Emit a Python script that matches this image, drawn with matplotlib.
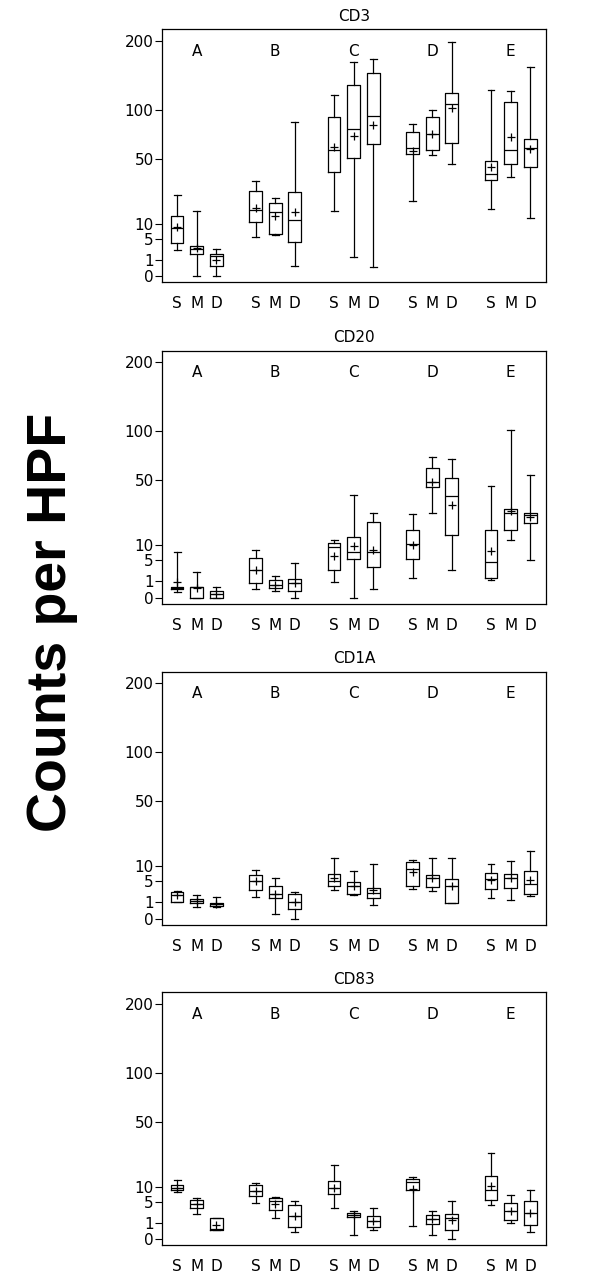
import numpy as np
import matplotlib.pyplot as plt

# groups / subsets / markers
groups = ['A', 'B', 'C', 'D', 'E']
subsets = ['S', 'M', 'D']
panels = ['CD3', 'CD20', 'CD1A', 'CD83']
yticks = [0, 1, 5, 10, 50, 100, 200]

# box stats, order A-S, A-M, A-D, B-S, ... E-D
cd3_low = [2.5, 0, 0, 5.5, 6.25, 0.41, 15.5, 1.4, 0.3, 20.4, 53, 45.7, 16.3, 35.8, 12.1]
cd3_q1 = [3.9, 1.85, 0.41, 10.6, 6.45, 4.3, 38.9, 50.4, 63, 53.6, 57.5, 63.7, 33.4, 45.7, 43]
cd3_med = [8.5, 2.76, 1.54, 15.8, 14.9, 11.4, 57.5, 78.1, 92.9, 59.3, 72.9, 106.9, 37.9, 57.5, 59]
cd3_q3 = [13.1, 3.3, 1.74, 26.2, 19.4, 25.6, 91.8, 131.8, 148.8, 75, 91, 120.6, 47.6, 109.4, 67.9]
cd3_high = [23.6, 15.2, 2.7, 32.7, 21.9, 85.4, 118, 166, 169.5, 83.2, 99.6, 197.7, 125.4, 123.7, 157.8]
cd3_mean = [8.6, 2.9, 0.96, 16.6, 13, 14.9, 59.9, 70.9, 82.8, 56.9, 73.3, 102, 43.3, 69.6, 58.1]

cd20_low = [0.1, 0, 0, 0.27, 0.16, 0, 0.85, 0, 0.27, 1.39, 25.6, 2.76, 1.17, 11.8, 5.1]
cd20_q1 = [0.25, 0, 0, 0.74, 0.31, 0.14, 2.8, 5.5, 3.46, 5.3, 44.4, 14.4, 1.35, 16.6, 19.9]
cd20_med = [0.36, 0.38, 0.06, 2.76, 0.58, 0.74, 9.1, 7.5, 7.5, 10.4, 47.9, 37.2, 4.5, 25.6, 24.6]
cd20_q3 = [0.44, 0.38, 0.14, 5.76, 1.12, 1.25, 10.6, 13.5, 20.8, 16.6, 60.8, 51.6, 16.6, 28.5, 25.6]
cd20_high = [7.4, 2.3, 0.38, 8.2, 1.64, 4.4, 12.1, 37.9, 25.6, 25.4, 70.9, 68.9, 45.2, 102, 54.5]
cd20_mean = [0.92, 0.31, 0.06, 2.76, 0.58, 0.74, 6.35, 9.7, 8.3, 10.2, 48.4, 30.7, 7.84, 27, 23.2]

cd1a_low = [0.96, 0.49, 0.49, 1.69, 0.08, 0, 3.0, 2.0, 0.71, 3.2, 2.8, 0.85, 1.59, 1.25, 1.9]
cd1a_q1 = [0.96, 0.92, 0.58, 3.0, 1.49, 0.36, 3.9, 2.25, 1.59, 3.9, 3.7, 0.85, 3.17, 3.3, 2.25]
cd1a_med = [1.96, 1.12, 0.74, 5.0, 2.19, 0.96, 5.1, 3.9, 2.37, 9.0, 6.05, 3.9, 5.76, 5.86, 4.4]
cd1a_q3 = [2.62, 1.35, 0.88, 6.86, 3.9, 2.25, 7.29, 4.75, 3.46, 11.7, 6.97, 5.66, 7.5, 7.2, 8.2]
cd1a_high = [2.76, 2.0, 1.69, 8.4, 5.95, 2.56, 13.4, 8.2, 10.6, 12.4, 13.1, 13.4, 10.6, 12, 16.6]
cd1a_mean = [1.96, 1.12, 0.74, 5.0, 2.19, 0.96, 5.86, 3.9, 2.89, 7.95, 6.05, 3.9, 5.3, 5.86, 5.3]

cd83_low = [8.07, 2.25, 0.34, 4.75, 1.59, 0.19, 3.46, 0.08, 0.29, 0.61, 0.08, 0, 4.33, 0.92, 0.19]
cd83_q1 = [8.6, 3.6, 0.34, 6.66, 3.17, 0.55, 7.5, 1.74, 0.55, 8.64, 0.88, 0.34, 5.66, 1.3, 0.77]
cd83_med = [9.5, 4.58, 0.38, 8.5, 5.38, 2.0, 9.36, 2.13, 1.21, 12.0, 1.49, 1.64, 8.9, 2.89, 2.5]
cd83_q3 = [10.5, 5.57, 1.64, 10.5, 6.15, 4.24, 12.25, 2.43, 1.96, 13.1, 2.19, 2.31, 14.6, 4.75, 5.38]
cd83_high = [12.7, 6.15, 1.64, 11.4, 6.55, 5.2, 19.7, 2.89, 3.46, 13.8, 2.96, 5.2, 27, 7.2, 8.64]
cd83_mean = [9.5, 4.58, 0.77, 8.5, 4.58, 2.0, 9.36, 2.13, 1.21, 9.0, 1.49, 1.3, 10.4, 2.89, 2.5]

data = {
    'CD3': (cd3_low, cd3_q1, cd3_med, cd3_q3, cd3_high, cd3_mean),
    'CD20': (cd20_low, cd20_q1, cd20_med, cd20_q3, cd20_high, cd20_mean),
    'CD1A': (cd1a_low, cd1a_q1, cd1a_med, cd1a_q3, cd1a_high, cd1a_mean),
    'CD83': (cd83_low, cd83_q1, cd83_med, cd83_q3, cd83_high, cd83_mean),
}


def fwd(x):
    return np.sign(x) * np.sqrt(np.abs(x))


def inv(x):
    return np.sign(x) * x ** 2


# box positions: 3 per group with one empty slot between groups
positions = [g * 4 + s + 1 for g in range(5) for s in range(3)]

fig = plt.figure(figsize=(6, 12.85), dpi=100)
W, H = 600, 1285
tops = [29.3, 350.7, 671.7, 992.3]
ph = 253.0
fs = 11

for name, top in zip(panels, tops):
    ax = fig.add_axes([162 / W, 1 - (top + ph) / H, 384 / W, ph / H])
    low, q1, med, q3, high, mean = data[name]
    stats = []
    for i in range(15):
        stats.append(dict(whislo=low[i], q1=q1[i], med=med[i], q3=q3[i],
                          whishi=high[i], mean=mean[i], fliers=[]))
    lp = dict(color='black', linewidth=0.9)
    ax.bxp(stats, positions=positions, widths=0.65, capwidths=0.35,
           showmeans=True, boxprops=lp, whiskerprops=lp, capprops=lp,
           medianprops=lp,
           meanprops=dict(marker='+', markeredgecolor='black',
                          markersize=6, markeredgewidth=0.9))
    ax.set_yscale('function', functions=(fwd, inv))
    ax.set_ylim(-0.13, 220)
    ax.set_xlim(0.23, 19.8)
    ax.set_yticks(yticks)
    ax.set_yticklabels([str(t) for t in yticks], fontsize=fs)
    ax.set_xticks(positions)
    ax.set_xticklabels(subsets * 5, fontsize=fs)
    ax.tick_params(axis='x', length=0, pad=10)
    ax.tick_params(axis='y', length=5, width=0.8, pad=1, direction='out')
    ax.minorticks_off()
    for sp in ax.spines.values():
        sp.set_linewidth(0.9)
    for g, lab in enumerate(groups):
        ax.text(g * 4 + 2, 0.913, lab, transform=ax.get_xaxis_transform(),
                ha='center', va='center', fontsize=fs)
    ax.set_title(name, fontsize=fs, pad=6)

fig.text(0.087, 0.516, 'Counts per HPF', rotation=90, ha='center',
         va='center', fontsize=40, fontweight='bold', family='Liberation Sans')

plt.savefig('out.png', dpi=100)
